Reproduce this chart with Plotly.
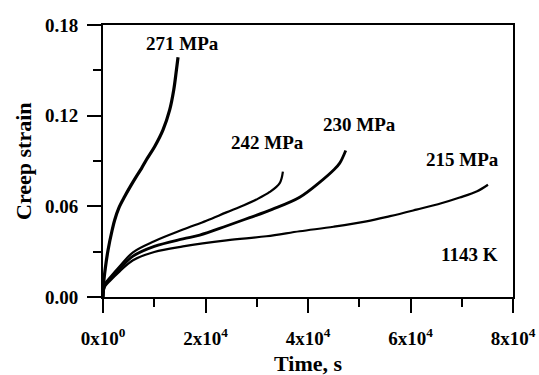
import plotly.graph_objects as go

t271 = [0, 150, 450, 980, 1800, 2280, 3100, 4230, 5400, 6520, 7490, 8470, 10090, 11710, 13010, 13800, 14320, 14640]
s271 = [0, 0.010, 0.019, 0.031, 0.0445, 0.051, 0.059, 0.0665, 0.0735, 0.0798, 0.085, 0.0908, 0.0996, 0.1106, 0.1238, 0.137, 0.150, 0.1587]

t242 = [0, 100, 400, 1300, 3260, 5850, 10000, 15610, 20180, 24080, 27500, 29930, 32530, 34480, 35100]
s242 = [0, 0.005, 0.009, 0.0127, 0.0203, 0.0296, 0.0369, 0.0446, 0.0505, 0.056, 0.0607, 0.0645, 0.0695, 0.0754, 0.083]

t230 = [0, 100, 400, 1300, 3260, 5850, 10000, 15610, 18870, 24080, 28620, 33000, 38380, 42500, 45000, 46190, 47360]
s230 = [0, 0.004, 0.008, 0.0116, 0.0186, 0.027, 0.0335, 0.0385, 0.041, 0.047, 0.0525, 0.058, 0.066, 0.0765, 0.084, 0.0886, 0.097]

t215 = [0, 100, 400, 1300, 3260, 5850, 10000, 15610, 24080, 31880, 38380, 45000, 51400, 56000, 61150, 66000, 69600, 73000, 75120]
s215 = [0, 0.004, 0.007, 0.0105, 0.017, 0.0243, 0.0298, 0.0335, 0.0375, 0.0402, 0.0435, 0.0465, 0.050, 0.0535, 0.0578, 0.062, 0.0658, 0.070, 0.0743]

x_tickvals = [0, 20000, 40000, 60000, 80000]
x_ticktext = ["0x10<sup>0</sup>", "2x10<sup>4</sup>", "4x10<sup>4</sup>", "6x10<sup>4</sup>", "8x10<sup>4</sup>"]
x_minor = [10000, 30000, 50000, 70000]
y_tickvals = [0, 0.06, 0.12, 0.18]
y_ticktext = ["0.00", "0.06", "0.12", "0.18"]
y_minor = [0.03, 0.09, 0.15]

labels = ["271 MPa", "242 MPa", "230 MPa", "215 MPa", "1143 K"]
label_x = [15550, 32130, 50090, 70180, 71550]
label_y = [0.168, 0.102, 0.114, 0.0908, 0.028]

FONT = "Liberation Serif"

fig = go.Figure()
for t, s, w in [(t271, s271, 3.2), (t242, s242, 2.2), (t230, s230, 2.8), (t215, s215, 2.2)]:
    fig.add_trace(go.Scatter(x=t, y=s, mode="lines",
                             line=dict(color="black", width=w, shape="spline", smoothing=1.0),
                             showlegend=False, hoverinfo="skip"))

for txt, x, y in zip(labels, label_x, label_y):
    fig.add_annotation(x=x, y=y, text="<b>%s</b>" % txt, showarrow=False,
                       font=dict(family=FONT, size=19, color="black"), xanchor="center", yanchor="middle")

fig.add_annotation(xref="paper", yref="paper", x=0.5, y=0, yshift=-66, text="<b>Time, s</b>",
                   showarrow=False, font=dict(family=FONT, size=22, color="black"),
                   xanchor="center", yanchor="middle")
fig.add_annotation(xref="paper", yref="paper", x=0, y=0.5, xshift=-80, text="<b>Creep strain</b>",
                   showarrow=False, textangle=-90, font=dict(family=FONT, size=22, color="black"),
                   xanchor="center", yanchor="middle")

axis_common = dict(showline=True, linecolor="black", linewidth=2, mirror=True, showgrid=False, zeroline=False,
                   ticks="outside", tickwidth=2, ticklen=14, tickcolor="black", automargin=False,
                   tickfont=dict(family=FONT, size=19, color="black"))

fig.update_xaxes(range=[0, 80000], tickvals=x_tickvals, ticktext=["<b>%s</b>" % v for v in x_ticktext],
                 minor=dict(tickvals=x_minor, ticklen=8, tickwidth=2, tickcolor="black", ticks="outside"),
                 ticklabelstandoff=9, **axis_common)
fig.update_yaxes(range=[0, 0.18], tickvals=y_tickvals, ticktext=["<b>%s</b>" % v for v in y_ticktext],
                 minor=dict(tickvals=y_minor, ticklen=8, tickwidth=2, tickcolor="black", ticks="outside"),
                 ticklabelstandoff=5, **axis_common)

fig.update_layout(width=539, height=375, margin=dict(l=103, r=26, t=25, b=78, autoexpand=False),
                  plot_bgcolor="white", paper_bgcolor="white")

fig.write_html("out.html", config={"displayModeBar": False},
               post_script="document.body.style.margin='0';document.body.style.overflow='hidden';")
